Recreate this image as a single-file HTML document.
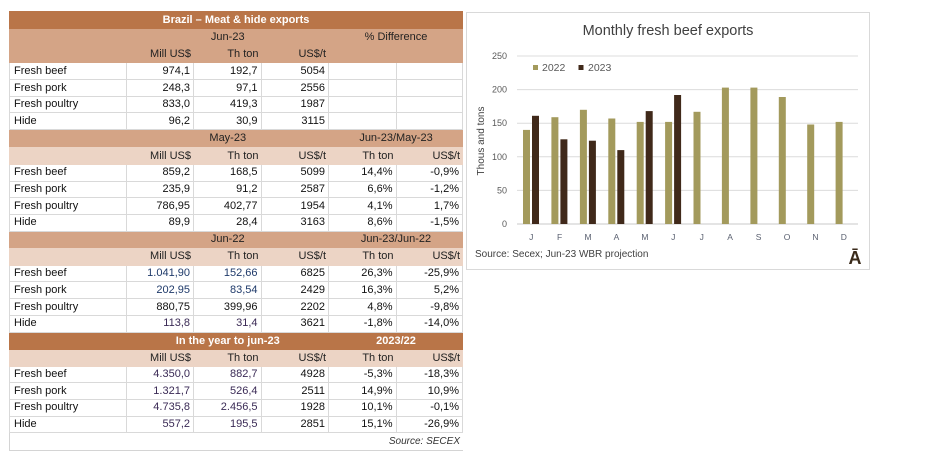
<!DOCTYPE html>
<html><head><meta charset="utf-8">
<style>
body{margin:0;width:940px;height:469px;background:#fff;position:relative;overflow:hidden;font-family:"Liberation Sans",sans-serif;}
.r{position:absolute;left:9px;width:454px;display:flex;font-size:11px;line-height:1;}
.r>div{box-sizing:border-box;display:flex;align-items:center;justify-content:flex-end;padding-right:3px;white-space:nowrap;height:100%;}
.c0{width:117.5px}.c1,.c2,.c3,.c4{width:67.5px}.c5{width:66.5px}
.s3{width:202.5px;justify-content:center!important;padding-right:0!important}
.s2{width:134px;justify-content:center!important;padding-right:0!important}
.d{background:#fff;color:#111}
.d>div{border-right:1px solid #d9d9d9;border-bottom:1px solid #d9d9d9}
.d>div.c0{justify-content:flex-start;padding-left:4px;border-left:1px solid #d9d9d9}
.t{background:#b97548;color:#fff;font-weight:bold}
.h{background:#d4a486;color:#222}
.l{background:#ecd4c5;color:#222}
.b{color:#1f3a6a}
.p{color:#3a2a55}
svg{position:absolute;left:0;top:0}
</style></head><body>

<div class="r t" style="top:11px;height:18px"><div style="width:454px;justify-content:center;padding:0">Brazil – Meat &amp; hide exports</div></div>
<div class="r h" style="top:29px;height:17px"><div class="c0"></div><div class="s3">Jun-23</div><div class="s2">% Difference</div></div>
<div class="r h" style="top:46px;height:17px"><div class="c0"></div><div class="c1">Mill US$</div><div class="c2">Th ton</div><div class="c3">US$/t</div><div class="c4"></div><div class="c5"></div></div>
<div class="r d" style="top:63px;height:17px"><div class="c0">Fresh beef</div><div class="c1">974,1</div><div class="c2">192,7</div><div class="c3">5054</div><div class="c4"></div><div class="c5"></div></div>
<div class="r d" style="top:80px;height:17px"><div class="c0">Fresh pork</div><div class="c1">248,3</div><div class="c2">97,1</div><div class="c3">2556</div><div class="c4"></div><div class="c5"></div></div>
<div class="r d" style="top:97px;height:16px"><div class="c0">Fresh poultry</div><div class="c1">833,0</div><div class="c2">419,3</div><div class="c3">1987</div><div class="c4"></div><div class="c5"></div></div>
<div class="r d" style="top:113px;height:17px"><div class="c0">Hide</div><div class="c1">96,2</div><div class="c2">30,9</div><div class="c3">3115</div><div class="c4"></div><div class="c5"></div></div>

<div class="r h" style="top:130px;height:17px"><div class="c0"></div><div class="s3">May-23</div><div class="s2">Jun-23/May-23</div></div>
<div class="r l" style="top:147px;height:18px"><div class="c0"></div><div class="c1">Mill US$</div><div class="c2">Th ton</div><div class="c3">US$/t</div><div class="c4">Th ton</div><div class="c5">US$/t</div></div>
<div class="r d" style="top:165px;height:16.7px"><div class="c0">Fresh beef</div><div class="c1">859,2</div><div class="c2">168,5</div><div class="c3">5099</div><div class="c4">14,4%</div><div class="c5">-0,9%</div></div>
<div class="r d" style="top:181.7px;height:16.6px"><div class="c0">Fresh pork</div><div class="c1">235,9</div><div class="c2">91,2</div><div class="c3">2587</div><div class="c4">6,6%</div><div class="c5">-1,2%</div></div>
<div class="r d" style="top:198.3px;height:16.7px"><div class="c0">Fresh poultry</div><div class="c1">786,95</div><div class="c2">402,77</div><div class="c3">1954</div><div class="c4">4,1%</div><div class="c5">1,7%</div></div>
<div class="r d" style="top:215px;height:16.7px"><div class="c0">Hide</div><div class="c1">89,9</div><div class="c2">28,4</div><div class="c3">3163</div><div class="c4">8,6%</div><div class="c5">-1,5%</div></div>

<div class="r h" style="top:231.7px;height:16.3px"><div class="c0"></div><div class="s3">Jun-22</div><div class="s2">Jun-23/Jun-22</div></div>
<div class="r l" style="top:248px;height:17.7px"><div class="c0"></div><div class="c1">Mill US$</div><div class="c2">Th ton</div><div class="c3">US$/t</div><div class="c4">Th ton</div><div class="c5">US$/t</div></div>
<div class="r d" style="top:265.7px;height:16.6px"><div class="c0">Fresh beef</div><div class="c1 b">1.041,90</div><div class="c2 b">152,66</div><div class="c3">6825</div><div class="c4">26,3%</div><div class="c5">-25,9%</div></div>
<div class="r d" style="top:282.3px;height:16.7px"><div class="c0">Fresh pork</div><div class="c1 b">202,95</div><div class="c2 b">83,54</div><div class="c3">2429</div><div class="c4">16,3%</div><div class="c5">5,2%</div></div>
<div class="r d" style="top:299px;height:17px"><div class="c0">Fresh poultry</div><div class="c1">880,75</div><div class="c2">399,96</div><div class="c3">2202</div><div class="c4">4,8%</div><div class="c5">-9,8%</div></div>
<div class="r d" style="top:316px;height:16.7px"><div class="c0">Hide</div><div class="c1 p">113,8</div><div class="c2 p">31,4</div><div class="c3">3621</div><div class="c4">-1,8%</div><div class="c5">-14,0%</div></div>

<div class="r t" style="top:332.7px;height:17.3px"><div class="c0"></div><div class="s3">In the year to jun-23</div><div class="s2">2023/22</div></div>
<div class="r l" style="top:350px;height:16.7px"><div class="c0"></div><div class="c1">Mill US$</div><div class="c2">Th ton</div><div class="c3">US$/t</div><div class="c4">Th ton</div><div class="c5">US$/t</div></div>
<div class="r d" style="top:366.7px;height:16.6px"><div class="c0">Fresh beef</div><div class="c1 p">4.350,0</div><div class="c2 p">882,7</div><div class="c3">4928</div><div class="c4">-5,3%</div><div class="c5">-18,3%</div></div>
<div class="r d" style="top:383.3px;height:16.7px"><div class="c0">Fresh pork</div><div class="c1 p">1.321,7</div><div class="c2 p">526,4</div><div class="c3">2511</div><div class="c4">14,9%</div><div class="c5">10,9%</div></div>
<div class="r d" style="top:400px;height:16.7px"><div class="c0">Fresh poultry</div><div class="c1 p">4.735,8</div><div class="c2 p">2.456,5</div><div class="c3">1928</div><div class="c4">10,1%</div><div class="c5">-0,1%</div></div>
<div class="r d" style="top:416.7px;height:16.6px"><div class="c0">Hide</div><div class="c1 p">557,2</div><div class="c2 p">195,5</div><div class="c3">2851</div><div class="c4">15,1%</div><div class="c5">-26,9%</div></div>
<div class="r" style="top:433.3px;height:17.7px;background:#fff"><div style="width:454px;border-left:1px solid #d4d4d4;border-bottom:1px solid #d4d4d4;font-style:italic;font-size:10px;color:#333;padding-right:3px">Source: SECEX</div></div>

<svg width="940" height="469" viewBox="0 0 940 469" xmlns="http://www.w3.org/2000/svg" font-family="Liberation Sans, sans-serif">
<rect x="466.5" y="12.5" width="403" height="257" fill="#fff" stroke="#d9d9d9"/>
<text x="668" y="35" font-size="14.5" fill="#404040" text-anchor="middle">Monthly fresh beef exports</text>
<g stroke="#dcdcdc" stroke-width="1">
<line x1="517" y1="56" x2="858" y2="56"/>
<line x1="517" y1="89.6" x2="858" y2="89.6"/>
<line x1="517" y1="123.2" x2="858" y2="123.2"/>
<line x1="517" y1="156.8" x2="858" y2="156.8"/>
<line x1="517" y1="190.4" x2="858" y2="190.4"/>
</g>
<line x1="517" y1="224" x2="858" y2="224" stroke="#c8c8c8"/>
<g font-size="9" fill="#595959" text-anchor="end">
<text x="507" y="59">250</text>
<text x="507" y="92.6">200</text>
<text x="507" y="126.2">150</text>
<text x="507" y="159.8">100</text>
<text x="507" y="193.4">50</text>
<text x="507" y="227">0</text>
</g>
<text transform="translate(484,141) rotate(-90)" font-size="10" fill="#404040" text-anchor="middle">Thous and tons</text>
<rect x="533" y="65" width="5" height="5" fill="#a39a5c"/>
<text x="542" y="71" font-size="10.5" fill="#595959">2022</text>
<rect x="578.5" y="65" width="5" height="5" fill="#40291a"/>
<text x="588" y="71" font-size="10.5" fill="#595959">2023</text>
<g fill="#a39a5c">
<rect x="523.0" y="129.9" width="7" height="94.1"/>
<rect x="551.4" y="117.2" width="7" height="106.8"/>
<rect x="579.9" y="109.8" width="7" height="114.2"/>
<rect x="608.3" y="118.5" width="7" height="105.5"/>
<rect x="636.7" y="121.9" width="7" height="102.1"/>
<rect x="665.1" y="121.9" width="7" height="102.1"/>
<rect x="693.5" y="111.8" width="7" height="112.2"/>
<rect x="721.9" y="87.6" width="7" height="136.4"/>
<rect x="750.4" y="87.6" width="7" height="136.4"/>
<rect x="778.8" y="97.0" width="7" height="127"/>
<rect x="807.2" y="124.5" width="7" height="99.5"/>
<rect x="835.6" y="121.9" width="7" height="102.1"/>
</g>
<g fill="#40291a">
<rect x="532.0" y="115.8" width="7" height="108.2"/>
<rect x="560.4" y="139.3" width="7" height="84.7"/>
<rect x="588.9" y="140.7" width="7" height="83.3"/>
<rect x="617.3" y="150.1" width="7" height="73.9"/>
<rect x="645.7" y="111.1" width="7" height="112.9"/>
<rect x="674.1" y="95.0" width="7" height="129"/>
</g>
<g font-size="8.5" fill="#5a6070" text-anchor="middle">
<text x="531.2" y="240">J</text>
<text x="559.6" y="240">F</text>
<text x="588.1" y="240">M</text>
<text x="616.5" y="240">A</text>
<text x="644.9" y="240">M</text>
<text x="673.3" y="240">J</text>
<text x="701.7" y="240">J</text>
<text x="730.1" y="240">A</text>
<text x="758.6" y="240">S</text>
<text x="787.0" y="240">O</text>
<text x="815.4" y="240">N</text>
<text x="843.8" y="240">D</text>
</g>
<text x="475" y="257" font-size="10" fill="#404040">Source: Secex; Jun-23 WBR projection</text>
<text x="855" y="264" font-size="18" font-weight="bold" fill="#3a2a1a" text-anchor="middle">Ā</text>
</svg>
</body></html>
